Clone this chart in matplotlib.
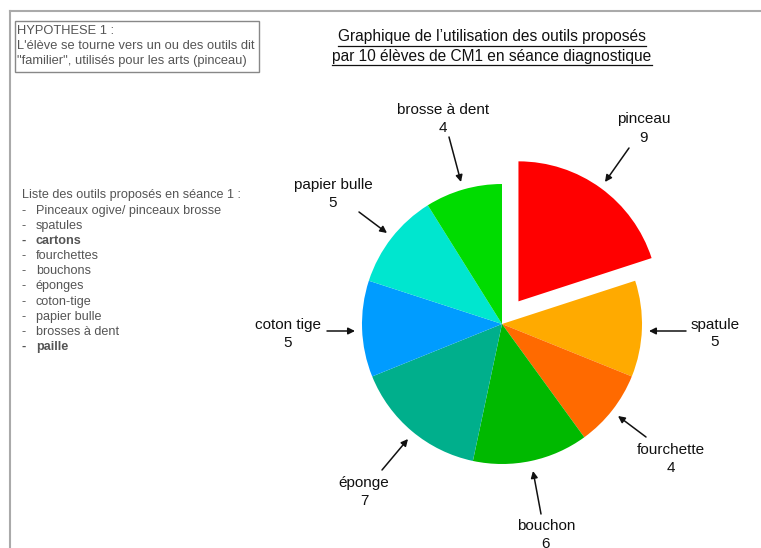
import matplotlib
matplotlib.use("Agg")
import matplotlib.pyplot as plt
from matplotlib.lines import Line2D
from matplotlib.patches import Rectangle

plt.rcParams['font.family'] = ['Liberation Sans', 'DejaVu Sans']

# ---- data ----
tools = ["pinceau", "spatule", "fourchette", "bouchon", "éponge", "coton tige", "papier bulle", "brosse à dent"]
counts = [9, 5, 4, 6, 7, 5, 5, 4]
colors = ["#FF0000", "#FFAA00", "#FF6A00", "#00B900", "#00AF8C", "#009CFF", "#00E6CF", "#00DC00"]

title_lines = ["Graphique de l\u2019utilisation des outils proposés",
               "par 10 élèves de CM1 en séance diagnostique"]
hypothesis = ["HYPOTHESE 1 :",
              "L'élève se tourne vers un ou des outils dit",
              "\"familier\", utilisés pour les arts (pinceau)"]
list_title = "Liste des outils proposés en séance 1 :"
list_items = ["Pinceaux ogive/ pinceaux brosse", "spatules", "cartons", "fourchettes",
              "bouchons", "éponges", "coton-tige", "papier bulle", "brosses à dent", "paille"]
list_bold = [False, False, True, False, False, False, False, False, False, True]

W, H = 761, 548
fig = plt.figure(figsize=(W / 100, H / 100), dpi=100)
ax = fig.add_axes([0, 0, 1, 1])

def Y(y):
    return H - y

# pie
explode = [28, 0, 0, 0, 0, 0, 0, 0]
ax.pie(counts, colors=colors, startangle=90, counterclock=False,
       center=(502, Y(324)), radius=140, explode=explode,
       wedgeprops=dict(linewidth=0))
ax.set_xlim(0, W)
ax.set_ylim(0, H)
ax.set_aspect('auto')
ax.axis('off')

# labels: (text center x, center y of two-line block, arrow tail, arrow head)
label_layout = {
    "pinceau": ((644, 128.5), (629, 148), (605, 182)),
    "spatule": ((715, 333.5), (686, 331), (649, 331)),
    "fourchette": ((671, 459), (646, 437), (618, 416)),
    "bouchon": ((546, 535), (541, 514), (533, 471)),
    "éponge": ((364, 492), (382, 470), (408, 439)),
    "coton tige": ((288, 334), (327, 331), (355, 331)),
    "papier bulle": ((333, 194), (359, 212), (387, 233)),
    "brosse à dent": ((443, 119), (449, 137), (461, 182)),
}
for name, val in zip(tools, counts):
    (tx, ty), tail, head = label_layout[name]
    ax.text(tx, Y(ty - 9), name, ha='center', va='center', fontsize=11, color='#111111')
    ax.text(tx, Y(ty + 9), str(val), ha='center', va='center', fontsize=11, color='#111111')
    ax.annotate('', xy=(head[0], Y(head[1])), xytext=(tail[0], Y(tail[1])),
                arrowprops=dict(arrowstyle='-|>', color='#111111', lw=1.1,
                                mutation_scale=10, shrinkA=0, shrinkB=0))

# page border
ax.add_line(Line2D([10, W], [Y(11), Y(11)], color='#aaaaaa', lw=1.5))
ax.add_line(Line2D([10, 10], [Y(11), 0], color='#aaaaaa', lw=1.5))

# title with underline
title_texts = []
for i, line in enumerate(title_lines):
    t = ax.text(492, Y(37 + 19.5 * i), line, ha='center', va='center', fontsize=11.2, color='#111111')
    title_texts.append((t, 45.5 + 19.5 * i))
fig.canvas.draw()
renderer = fig.canvas.get_renderer()
inv = ax.transData.inverted()
for t, uy in title_texts:
    bb = t.get_window_extent(renderer)
    (x0, _), (x1, _) = inv.transform([(bb.x0, bb.y0), (bb.x1, bb.y1)])
    ax.add_line(Line2D([x0, x1], [Y(uy), Y(uy)], color='#111111', lw=0.9))

# hypothesis box
ax.add_patch(Rectangle((15, Y(72)), 244, 51, fill=False, edgecolor='#888888', lw=1))
for i, line in enumerate(hypothesis):
    ax.text(17, Y(31 + 15 * i), line, ha='left', va='center', fontsize=9.3, color='#555555')

# tools list
ax.text(22, Y(195), list_title, ha='left', va='center', fontsize=9.1, color='#555555')
for i, (item, b) in enumerate(zip(list_items, list_bold)):
    yy = Y(211 + 15.1 * i)
    ax.text(22, yy, "-", ha='left', va='center', fontsize=9.1, color='#555555',
            fontweight='bold' if b else 'normal')
    ax.text(36, yy, item, ha='left', va='center', fontsize=9.1, color='#555555',
            fontweight='bold' if b else 'normal')

fig.savefig('out.png', dpi=100)
